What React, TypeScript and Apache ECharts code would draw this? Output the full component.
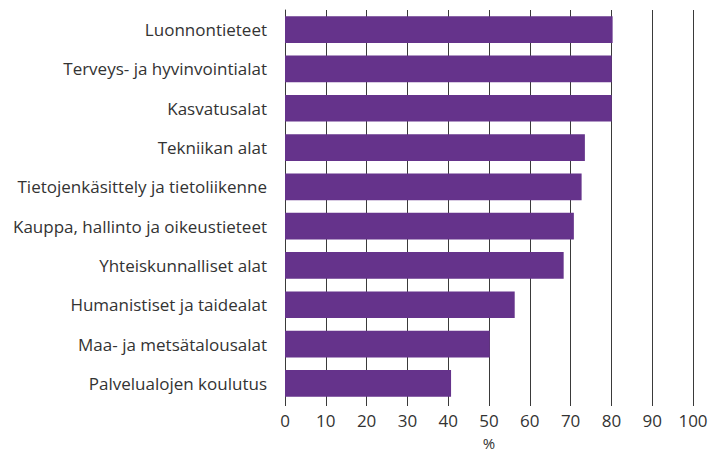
import React, { useEffect, useRef } from "react";
import * as echarts from "echarts";

const categories = [
  "Luonnontieteet",
  "Terveys- ja hyvinvointialat",
  "Kasvatusalat",
  "Tekniikan alat",
  "Tietojenkäsittely ja tietoliikenne",
  "Kauppa, hallinto ja oikeustieteet",
  "Yhteiskunnalliset alat",
  "Humanistiset ja taidealat",
  "Maa- ja metsätalousalat",
  "Palvelualojen koulutus",
];
const values = [80.3, 80.1, 80.1, 73.5, 72.7, 70.8, 68.3, 56.3, 50.2, 40.7];

export default function App() {
  const ref = useRef<HTMLDivElement>(null);
  useEffect(() => {
    if (!ref.current) return;
    const chart = echarts.init(ref.current, null, { renderer: "svg" });
    const font = "'Open Sans', sans-serif";
    chart.setOption({
      animation: false,
      grid: { left: 285, right: 17, top: 10, bottom: 50, containLabel: false, outerBoundsMode: "none" },
      xAxis: {
        type: "value",
        min: 0,
        max: 100,
        interval: 10,
        name: "%",
        nameLocation: "middle",
        nameGap: 32,
        nameTextStyle: { color: "#333", fontSize: 15, lineHeight: 15, fontFamily: font },
        axisLine: { show: false },
        axisTick: { show: true, length: 3, lineStyle: { color: "#3a3a3a" } },
        axisLabel: { color: "#333", fontSize: 17, fontFamily: font, margin: 9 },
        splitLine: { show: true, lineStyle: { color: "#3a3a3a", width: 1 } },
      },
      yAxis: {
        type: "category",
        data: categories,
        inverse: true,
        axisLine: { show: true, lineStyle: { color: "#3a3a3a", width: 1 } },
        axisTick: { show: false },
        axisLabel: { color: "#333", fontSize: 17, fontFamily: font, margin: 18 },
      },
      series: [
        {
          type: "bar",
          data: values,
          barCategoryGap: "32%",
          itemStyle: { color: "#65338B" },
        },
      ],
    });
    return () => chart.dispose();
  }, []);
  return <div ref={ref} style={{ width: 710, height: 453, position: "absolute", left: 0, top: 0 }} />;
}
